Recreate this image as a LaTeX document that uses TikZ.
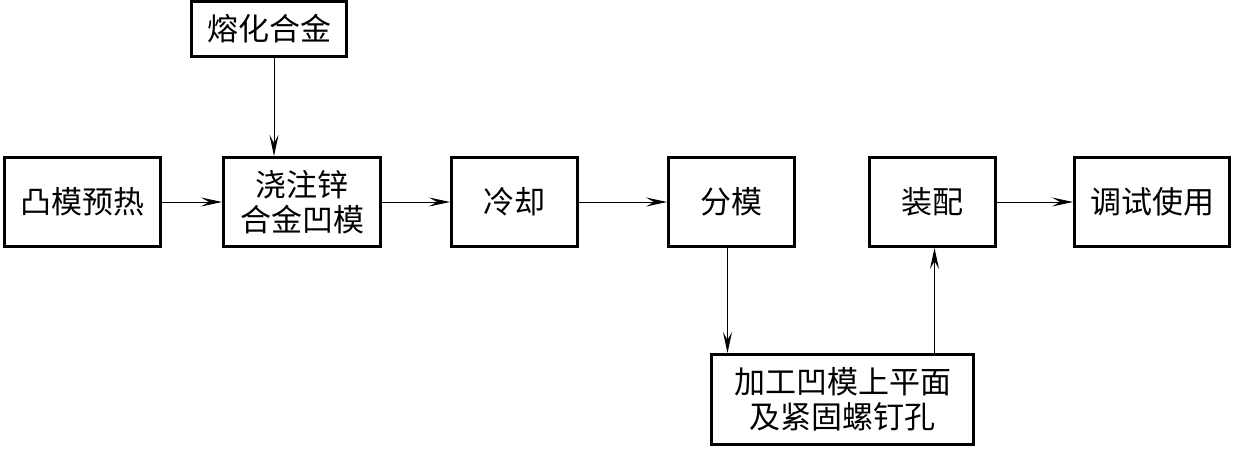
\documentclass[tikz,border=0pt]{standalone}
\usepackage{fontspec}
\newfontfamily\cjk{Noto Sans CJK SC}
\usepackage{tikz}
\usetikzlibrary{arrows.meta}
\tikzset{
  box/.style={draw=black, line width=3pt, minimum height=89pt, font=\cjk\fontsize{31}{35}\selectfont, align=center, inner sep=0pt},
  flow/.style={draw=black, line width=1pt, -{Stealth[length=21pt, width=9pt, inset=8pt]}},
}
\begin{document}
\begin{tikzpicture}[x=1pt, y=1pt]
  \useasboundingbox (0,0) rectangle (1233,448);

  \node[box, minimum width=155pt, minimum height=55pt] (melt) at (269,419) {熔化合金};
  \node[box, minimum width=156pt] (preheat) at (82.5,246) {凸模预热};
  \node[box, minimum width=157pt] (pour) at (302,246) {浇注锌\\合金凹模};
  \node[box, minimum width=126pt] (cool) at (514.5,246) {冷却};
  \node[box, minimum width=126pt] (split) at (731.5,246) {分模};
  \node[box, minimum width=126pt] (assemble) at (932.5,246) {装配};
  \node[box, minimum width=155pt] (test) at (1152,246) {调试使用};
  \node[box, minimum width=262pt, minimum height=90pt] (machine) at (842.5,48.5) {加工凹模上平面\\及紧固螺钉孔};

  \draw[flow] ([xshift=5pt]melt.south) -- ([xshift=5pt]melt.south |- pour.north);
  \draw[flow] (preheat) -- (pour);
  \draw[flow] (pour) -- (cool);
  \draw[flow] (cool) -- (split);
  \draw[flow] ([xshift=-4pt]split.south) -- ([xshift=-4pt]split.south |- machine.north);
  \draw[flow] ([xshift=2pt]assemble.south |- machine.north) -- ([xshift=2pt]assemble.south);
  \draw[flow] (assemble) -- (test);
\end{tikzpicture}
\end{document}
